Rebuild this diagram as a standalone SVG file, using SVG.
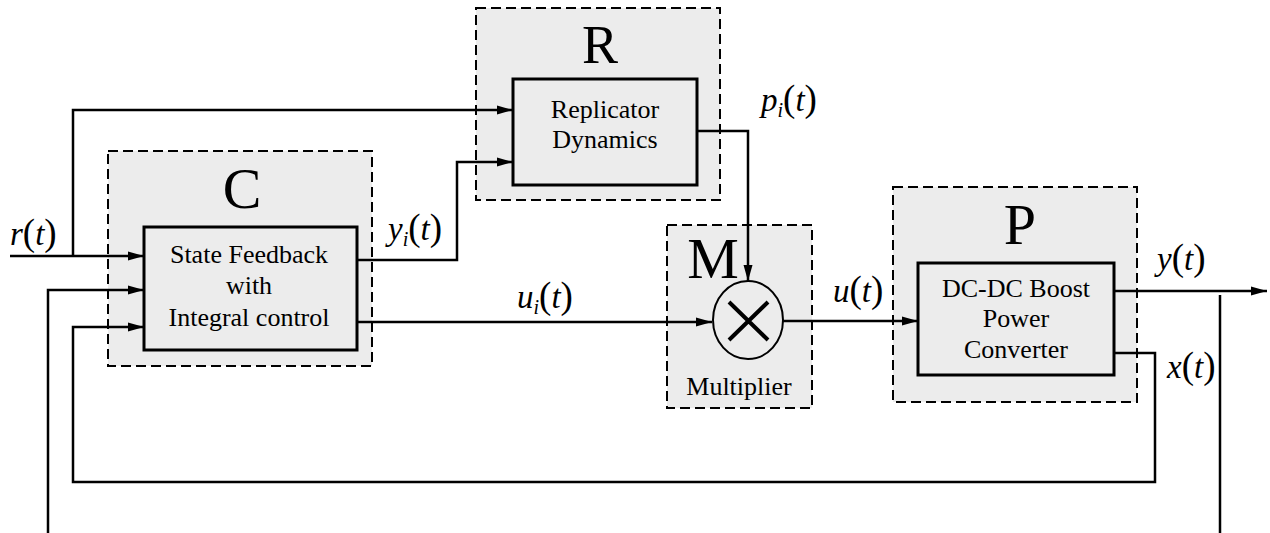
<svg xmlns="http://www.w3.org/2000/svg" width="1270" height="533" viewBox="0 0 1270 533">
<style>
.outer{fill:#ececec;stroke:#000;stroke-width:2;stroke-dasharray:10 5}
.inner{fill:#ececec;stroke:#000;stroke-width:3}
.wire{fill:none;stroke:#000;stroke-width:2.5}
.lbl{font-family:"Liberation Serif","Times New Roman",serif;font-size:26px;text-anchor:middle;fill:#000}
.big{font-family:"Liberation Serif","Times New Roman",serif;font-size:58px;text-anchor:middle;fill:#000}
.math{font-family:"Liberation Serif","Times New Roman",serif;font-size:33px;fill:#000}
.it{font-style:italic}
.par{font-size:37px}
.sub{font-style:italic;font-size:20px}
</style>
<defs>
<marker id="ah" markerUnits="userSpaceOnUse" markerWidth="16" markerHeight="10" refX="16" refY="5" orient="auto">
<path d="M0,0.5 L16,5 L0,9.5 z" fill="#000"/>
</marker>
</defs>

<g id="nodeC">
<rect class="outer" x="108" y="151" width="264" height="215"/>
<text class="big" x="242" y="208">C</text>
<rect class="inner" x="144" y="227" width="213" height="123"/>
<text class="lbl" x="249" y="263">State Feedback</text>
<text class="lbl" x="249" y="294">with</text>
<text class="lbl" x="249" y="326">Integral control</text>
</g>

<g id="nodeR">
<rect class="outer" x="476" y="8" width="244" height="192"/>
<text class="big" x="600" y="63" style="font-size:54px">R</text>
<rect class="inner" x="513" y="79" width="184" height="106"/>
<text class="lbl" x="605" y="118">Replicator</text>
<text class="lbl" x="605" y="148">Dynamics</text>
</g>

<g id="nodeM">
<rect class="outer" x="667" y="225" width="145" height="183"/>
<text class="big" x="713" y="278">M</text>
<ellipse cx="748" cy="320" rx="35" ry="39" fill="#ececec" stroke="#000" stroke-width="2"/>
<path d="M729,302 L768,340 M768,302 L729,340" stroke="#000" stroke-width="4" fill="none"/>
<text class="lbl" x="739" y="395">Multiplier</text>
</g>

<g id="nodeP">
<rect class="outer" x="893" y="187" width="244" height="215"/>
<text class="big" x="1020" y="244">P</text>
<rect class="inner" x="918" y="263" width="196" height="112"/>
<text class="lbl" x="1016" y="297">DC-DC Boost</text>
<text class="lbl" x="1016" y="327">Power</text>
<text class="lbl" x="1016" y="358">Converter</text>
</g>

<g id="connectors">
<path class="wire" d="M10,256 H144" marker-end="url(#ah)"/>
<path class="wire" d="M73,256 V110 H513" marker-end="url(#ah)"/>
<path class="wire" d="M357,260 H457 V162 H513" marker-end="url(#ah)"/>
<path class="wire" d="M357,322 H712" marker-end="url(#ah)"/>
<path class="wire" d="M697,131 H748 V281" marker-end="url(#ah)"/>
<path class="wire" d="M783,321 H918" marker-end="url(#ah)"/>
<path class="wire" d="M1114,291 H1267" marker-end="url(#ah)"/>
<path class="wire" d="M1114,353 H1155 V482 H73 V327 H144" marker-end="url(#ah)"/>
<path class="wire" d="M1220,295 V533"/>
<path class="wire" d="M48,533 V290 H144" marker-end="url(#ah)"/>
</g>

<g id="labels">
<text class="math" x="10" y="245"><tspan class="it">r</tspan><tspan class="par">(</tspan><tspan class="it">t</tspan><tspan class="par">)</tspan></text>
<text class="math" x="388" y="240"><tspan class="it">y</tspan><tspan class="sub" dy="6">i</tspan><tspan class="par" dy="-6">(</tspan><tspan class="it">t</tspan><tspan class="par">)</tspan></text>
<text class="math" x="517" y="308"><tspan class="it">u</tspan><tspan class="sub" dy="6">i</tspan><tspan class="par" dy="-6">(</tspan><tspan class="it">t</tspan><tspan class="par">)</tspan></text>
<text class="math" x="761" y="111"><tspan class="it">p</tspan><tspan class="sub" dy="6">i</tspan><tspan class="par" dy="-6">(</tspan><tspan class="it">t</tspan><tspan class="par">)</tspan></text>
<text class="math" x="833" y="302"><tspan class="it">u</tspan><tspan class="par">(</tspan><tspan class="it">t</tspan><tspan class="par">)</tspan></text>
<text class="math" x="1157" y="270"><tspan class="it">y</tspan><tspan class="par">(</tspan><tspan class="it">t</tspan><tspan class="par">)</tspan></text>
<text class="math" x="1167" y="378"><tspan class="it">x</tspan><tspan class="par">(</tspan><tspan class="it">t</tspan><tspan class="par">)</tspan></text>
</g>
</svg>
